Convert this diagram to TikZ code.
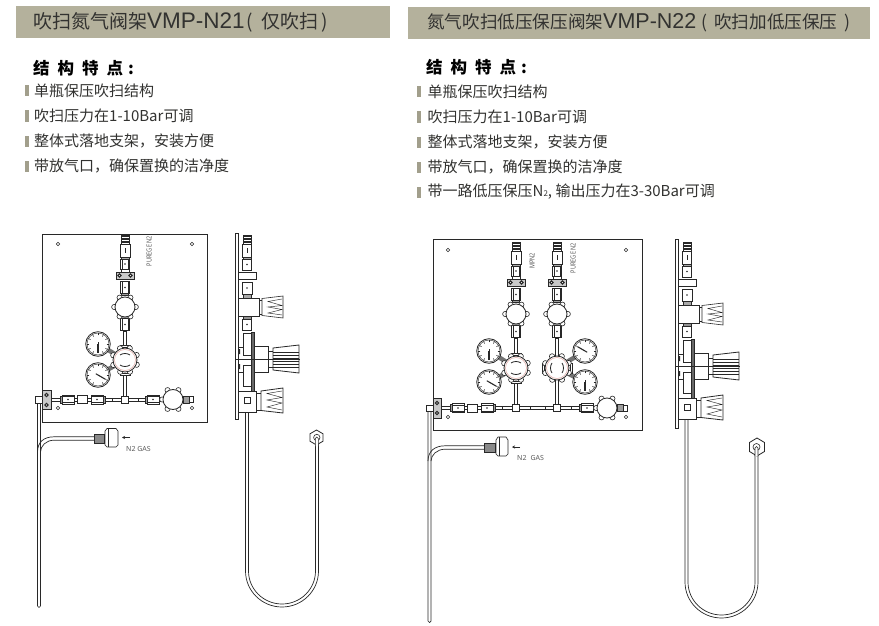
\documentclass[tikz,border=0pt]{standalone}
\usepackage{fontspec}
\usetikzlibrary{arrows.meta}
\setmainfont{Noto Sans CJK SC}
\setsansfont{Noto Sans}
\newfontfamily\titlelatin{Liberation Sans}
\definecolor{bar}{RGB}{180,177,156}
\definecolor{ink}{RGB}{40,40,40}
\definecolor{txt}{RGB}{50,50,48}
\definecolor{pink}{RGB}{225,170,165}
\definecolor{lab}{RGB}{90,90,90}
\tikzset{
 part/.style={draw=ink,line width=.6pt,fill=white},
 thin part/.style={draw=ink,line width=.45pt},
 hoseline/.style={draw=ink,line width=.7pt},
 stub/.style={draw=ink!65,line width=4.5pt},
 titlebar/.style={fill=bar,draw=none},
 titletext/.style={anchor=west,inner sep=0pt,text=txt},
 headtext/.style={anchor=west,inner sep=0pt,text=black,font=\fontsize{16.5}{17}\selectfont\bfseries},
 itemtext/.style={anchor=west,inner sep=0pt,text=txt,font=\fontsize{15}{15}\selectfont},
 marker/.style={fill=bar!90!black,draw=none},
 tiny/.style={inner sep=0pt,text=lab,font=\sffamily\fontsize{7}{7}\selectfont},
 hole/.style={draw=ink,line width=.6pt,fill=white},
 panel/.style={draw=ink,line width=.8pt,fill=white},
 fitpic/.pic={
   \draw[part] (-4.5,-6) rectangle (4.5,6);
   \draw[thin part] (-2.8,-6)--(-2.8,6) (2.8,-6)--(2.8,6);
   \fill[ink] (0,0) circle (.8);
   \draw[part,fill=ink!45] (-3.5,6) rectangle (3.5,7.8);
 },
 valvepic/.pic={
   \foreach \a in {0,60,...,300}{\draw[part] (\a:10.8) circle (2.6);}
   \draw[part,line width=.8pt] (0,0) circle (10);
 },
 regpic/.pic={
   \draw[part] (-5,-15) rectangle (5,15);
   \draw[thin part] (-5,-13)--(5,-13) (-5,13)--(5,13);
   \foreach \a in {22,67,...,337}{\draw[part] (\a:12.6) circle (2.7);}
   \draw[part,line width=.8pt] (0,0) circle (12);
   \draw[draw=pink,line width=.5pt] (0,0) circle (10.5);
   \draw[thin part,line width=.8pt] (-5,-5) .. controls (-2,-7) and (2,-7) .. (5,-5);
   \draw[thin part,line width=.8pt] (-5,5) .. controls (-2,7) and (2,7) .. (5,5);
 },
 gaugepic/.pic={
   \draw[part,line width=.8pt] (0,0) circle (12.3);
   \draw[thin part] (0,0) circle (11);
   \foreach \a in {120,150,...,420}{\draw[ink,line width=.5pt] (\a:8.6)--(\a:10.6);}
   \draw[ink,line width=1.1pt] (0,0)--(#1:8.5);
   \draw[ink,line width=1pt] (0,0)--(#1+180:2.5);
 },
 stackpic/.pic={
   \draw[part] (-4,0) rectangle (4,9);
   \foreach \t in {1.5,3,...,7.5}{\draw[ink,line width=.45pt] (-4,\t)--(4,\t);}
   \draw[part] (-5,9) rectangle (5,22);
   \draw[ink,line width=.7pt] (0,13)--(0,18);
   \draw[part,fill=ink!40] (-4,22) rectangle (4,24);
   \draw[part] (-4.5,24) rectangle (4.5,34);
   \draw[thin part] (-2.8,24)--(-2.8,34) (2.8,24)--(2.8,34);
   \fill[ink] (0,29) circle (.8);
   \draw[part] (-4,34) rectangle (4,37);
   \draw[part,fill=ink!25] (-9,37) rectangle (9,44);
   \draw[hole,line width=1.1pt] (-5.5,40.5) circle (1.7);
   \draw[hole,line width=1.1pt] (5.5,40.5) circle (1.7);
   \draw[part] (-1.6,96) rectangle (1.6,114);
   \pic at (0,52.5) {fitpic};
   \pic at (0,89.5) [yscale=-1] {fitpic};
   \pic at (0,72) {valvepic};
 },
 sidepic/.pic={
   \draw[part] (-4,0) rectangle (4,9);
   \foreach \t in {1.5,3,...,7.5}{\draw[ink,line width=.45pt] (-4,\t)--(4,\t);}
   \draw[part] (-4.5,9) rectangle (4.5,22);
   \draw[ink,line width=.7pt] (0,13)--(0,18);
   \draw[part,fill=ink!40] (-4,22) rectangle (4,24);
   \draw[part] (-4.5,24) rectangle (4.5,35);
   \fill[ink] (0,29.5) circle (.8);
   \draw[part] (-9,37) rectangle (9,44);
   \draw[part] (-5,47) rectangle (5,59);
   \fill[ink] (0,53) circle (.8);
   \draw[part,fill=ink!40] (-4,59) rectangle (4,63);
   % upper valve
   \draw[part] (-9,63) rectangle (12,81);
   \draw[part] (12,65) rectangle (15,79);
   \draw[part] (15,63.5) -- (36,61) -- (36,83) -- (15,80.5) -- cycle;
   \draw[thin part] (35,64) -- (21,66.5) -- (35,70.5) -- (21,72) -- (35,74.5) -- (21,78) -- (35,80);
   \draw[part,fill=ink!50] (-4,81) rectangle (4,84);
   \draw[part] (-4.5,84) rectangle (4.5,95);
   \fill[ink] (0,89.5) circle (.8);
   % regulator blocks
   \draw[part] (-9,112) rectangle (7,137);
   \draw[part] (-4,98) rectangle (4,120);
   \draw[part] (-4,130) rectangle (4,151);
   \draw[part,fill=ink!70] (4,97) rectangle (7,158);
   \draw[part] (7,111) rectangle (21,137);
   \draw[part] (21,116) rectangle (26,132);
   \draw[part,line width=.8pt] (26,113) -- (52,110) -- (52,138) -- (26,135) -- cycle;
   \foreach \t in {117,120,...,132}{\draw[ink,line width=.4pt] (26,\t)--(52,\t);}
   \draw[thin part] (-12,124)--(53,124);
   \fill[ink] (-9,114) rectangle (-7,119) (-9,129) rectangle (-7,134);
   % lower valve
   \draw[part] (-9,156) rectangle (9,177);
   \draw[part] (9,158) rectangle (14,175);
   \draw[part,line width=.8pt] (14,156) -- (36,153) -- (36,178) -- (14,175.5) -- cycle;
   \draw[thin part] (35,156) -- (20,158.5) -- (35,162.5) -- (20,165) -- (35,168) -- (20,172) -- (35,175);
   \draw[part] (-3,162) rectangle (3,168);
 },
}
\begin{document}
\begin{tikzpicture}[x=1pt,y=-1pt]
\useasboundingbox (0,0) rectangle (879,626);
\fill[white] (0,0) rectangle (879,626);
% ---------- titles
\fill[titlebar] (16,6) rectangle (390,38);
\fill[titlebar] (408,7) rectangle (870,39);
\node[titletext,font=\fontsize{19}{19}\selectfont] (t1) at (33,22) {吹扫氮气阀架{\titlelatin\fontsize{22.5}{22}\selectfont VMP-N21}\hspace{2pt}(\hspace{8pt}仅吹扫\hspace{3pt})};
\node[titletext,font=\fontsize{17.6}{18}\selectfont] (t2) at (427,23) {氮气吹扫低压保压阀架{\titlelatin\fontsize{21.5}{21}\selectfont VMP-N22}\hspace{5pt}(\hspace{7pt}吹扫加低压保压\hspace{7pt})};
\node[headtext] (h1) at (33,68) {结\hspace{8pt}构\hspace{8pt}特\hspace{8pt}点\hspace{5pt}:};
\node[headtext] (h2) at (426,67) {结\hspace{8pt}构\hspace{8pt}特\hspace{8pt}点\hspace{5pt}:};
% ---------- left list
\foreach \yy/\nm/\tx in {91/a/单瓶保压吹扫结构,116/b/吹扫压力在1-10Bar可调,141/c/整体式落地支架，安装方便,166/d/带放气口，确保置换的洁净度}{
  \fill[marker] (25,\yy-5.5) rectangle (28.5,\yy+5.5);
  \node[itemtext] (l\nm) at (34,\yy) {\tx};
}
% ---------- right list
\foreach \yy/\nm/\tx in {92/a/单瓶保压吹扫结构,117/b/吹扫压力在1-10Bar可调,142/c/整体式落地支架，安装方便,167/d/带放气口，确保置换的洁净度,192/e/{带一路低压保压N{\fontsize{8}{8}\selectfont 2}, 输出压力在3-30Bar可调}}{
  \fill[marker] (417,\yy-5.5) rectangle (420.5,\yy+5.5);
  \node[itemtext] (r\nm) at (427.5,\yy) {\tx};
}
% ========== left front view
\draw[hoseline] (37.5,452) .. controls (37.5,442) and (44,436.8) .. (54,436.8) -- (94,436.8);
\draw[hoseline] (40.5,452) .. controls (40.5,446) and (46,440.2) .. (54,440.2) -- (94,440.2);
\draw[hoseline] (37.5,403) -- (37.5,606) arc[start angle=180,end angle=0,radius=1.5] -- (40.5,403);
\draw[panel] (42,234) rectangle (207,422);
\foreach \p in {(58,244),(192,244),(58,408),(192,408)}{\draw[hole] \p circle (1.8);}
\coordinate (A) at (125,360);
\coordinate (Ag1) at (98,344);
\coordinate (Ag2) at (98,375);
\draw[part] (51,398) rectangle (163,401);
\draw[part] (123.4,360) rectangle (126.6,399);
\draw[stub] (Ag1)--(A);
\draw[stub] (Ag2)--(A);
\pic at (125,235) {stackpic};
\pic at (A) {regpic};
\pic at (Ag1) {gaugepic=90};
\pic at (Ag2) {gaugepic=30};
\draw[part] (121.5,396) rectangle (128.5,403);
\draw[ink,line width=.6pt] (112,398)--(112,401) (138,398)--(138,401);
\draw[part,fill=ink!25] (42,390) rectangle (51,409);
\draw[hole,line width=1.1pt] (46.5,395) circle (1.7);
\draw[hole,line width=1.1pt] (46.5,405) circle (1.7);
\draw[part] (35.5,396.5) rectangle (42,403);
\pic at (68,399.5) [rotate=-90] {fitpic};
\draw[part] (77,395.5) rectangle (87,403.5);
\pic at (97,399.5) [rotate=90] {fitpic};
\pic at (153,399.5) [rotate=-90] {fitpic};
\pic at (173,399.5) {valvepic};
\draw[part,fill=ink!45] (183,396) rectangle (189,403);
\draw[part] (189,396.5) rectangle (193,402.5);
\node[tiny,rotate=90] (pl) at (149,251) {\scalebox{.8}[1]{PUREGE N2}};
% gas inlet left
\draw[part,fill=ink!55] (94,434.5) rectangle (104,443.5);
\draw[part] (105,431) -- (107,428.5) -- (116,428.5) -- (118,431) -- (118,445) -- (116,447) -- (107,447) -- (105,445) -- cycle;
\draw[thin part] (108,428.5)--(108,447);
\coordinate (AwA) at (130,437.5);
\coordinate (AwB) at (122,437.5);
\draw[ink,line width=.8pt,-{Stealth[length=3pt,width=3pt]}] (AwA)--(AwB);
\node[tiny,anchor=west] (gl) at (126,449) {N2 GAS};
% left side view
\draw[part,line width=.7pt] (235,233) rectangle (238,419);
\draw[hoseline] (245.5,403) -- (245.5,571) arc[start angle=180,end angle=0,x radius=36.5,y radius=36] -- (318.5,440);
\draw[hoseline] (248.5,403) -- (248.5,571) arc[start angle=180,end angle=0,x radius=33.5,y radius=33] -- (315.5,440);
\pic at (247,235) {sidepic};
\draw[part,line width=.8pt] (316.5,430) -- (323,433.8) -- (323,441.2) -- (316.5,445) -- (310,441.2) -- (310,433.8) -- cycle;
\draw[part] (316.8,437.5) circle (3.2);
\draw[part] (315.3,446) -- (315.3,438.5) arc[start angle=180,end angle=360,radius=1.5] -- (318.3,446);
% ========== right front view
\draw[hoseline] (428,461) .. controls (428,451) and (435,445.8) .. (445,445.8) -- (484,445.8);
\draw[hoseline] (431,461) .. controls (431,455) and (437,449.2) .. (445,449.2) -- (484,449.2);
\draw[hoseline] (428,411) -- (428,621) arc[start angle=180,end angle=0,radius=1.5] -- (431,411);
\draw[panel] (433,239) rectangle (642,430);
\foreach \p in {(448,250),(626,250),(448,417),(626,417)}{\draw[hole] \p circle (1.8);}
\coordinate (B) at (516,368);
\coordinate (C) at (557,368);
\coordinate (Bg1) at (489,351);
\coordinate (Bg2) at (489,382);
\coordinate (Cg1) at (585,351);
\coordinate (Cg2) at (585,382);
\draw[part] (441,406.5) rectangle (598,409.5);
\draw[part] (514.4,368) rectangle (517.6,407);
\draw[part] (555.4,368) rectangle (558.6,407);
\draw[stub] (Bg1)--(B);
\draw[stub] (Bg2)--(B);
\draw[stub] (Cg1)--(C);
\draw[stub] (Cg2)--(C);
\pic at (516,242) {stackpic};
\pic at (557,242) {stackpic};
\pic at (B) {regpic};
\pic at (C) [rotate=90] {regpic};
\pic at (Bg1) {gaugepic=90};
\pic at (Bg2) {gaugepic=30};
\pic at (Cg1) {gaugepic=210};
\pic at (Cg2) {gaugepic=90};
\draw[part] (512.7,404.7) rectangle (519.3,411.3);
\draw[part] (553.7,404.7) rectangle (560.3,411.3);
\draw[ink,line width=.6pt] (502,406.5)--(502,409.5) (530,406.5)--(530,409.5) (545,406.5)--(545,409.5) (571,406.5)--(571,409.5);
\draw[part,fill=ink!25] (433,398) rectangle (441,418);
\draw[hole,line width=1.1pt] (437,403) circle (1.7);
\draw[hole,line width=1.1pt] (437,413) circle (1.7);
\draw[part] (426,405) rectangle (433,411);
\pic at (458,408) [rotate=-90] {fitpic};
\draw[part] (467,404) rectangle (477,412);
\pic at (487,408) [rotate=90] {fitpic};
\pic at (587,408) [rotate=-90] {fitpic};
\pic at (607,408) {valvepic};
\draw[part,fill=ink!45] (617,404.5) rectangle (623,411.5);
\draw[part] (623,405) rectangle (627,411);
\node[tiny,rotate=90] (pr) at (573,258) {\scalebox{.8}[1]{PUREGE N2}};
\node[tiny,rotate=90] (mr) at (532,261) {\scalebox{.8}[1]{MPN2}};
% gas inlet right
\draw[part,fill=ink!55] (484,443.5) rectangle (495,452);
\draw[part] (496,440) -- (498,437) -- (506,437) -- (508,440) -- (508,454) -- (506,456) -- (498,456) -- (496,454) -- cycle;
\draw[thin part] (499,437)--(499,456);
\coordinate (BwA) at (520,447);
\coordinate (BwB) at (512,447);
\draw[ink,line width=.8pt,-{Stealth[length=3pt,width=3pt]}] (BwA)--(BwB);
\node[tiny,anchor=west] (gr) at (517,457.5) {N2\hspace{4pt}GAS};
% right side view
\draw[part,line width=.7pt] (675,239) rectangle (678,428);
\draw[hoseline] (685,411) -- (685,582) arc[start angle=180,end angle=0,x radius=36.5,y radius=36] -- (758,450);
\draw[hoseline] (688,411) -- (688,582) arc[start angle=180,end angle=0,x radius=33.5,y radius=33] -- (755,450);
\pic at (687,242) {sidepic};
\draw[part,line width=.8pt] (757,438) -- (764.5,442.5) -- (764.5,451.5) -- (757,456) -- (749.5,451.5) -- (749.5,442.5) -- cycle;
\draw[part] (756.5,447) circle (3.5);
\draw[part] (755,456) -- (755,448) arc[start angle=180,end angle=360,radius=1.5] -- (758,456);
\end{tikzpicture}
\end{document}
